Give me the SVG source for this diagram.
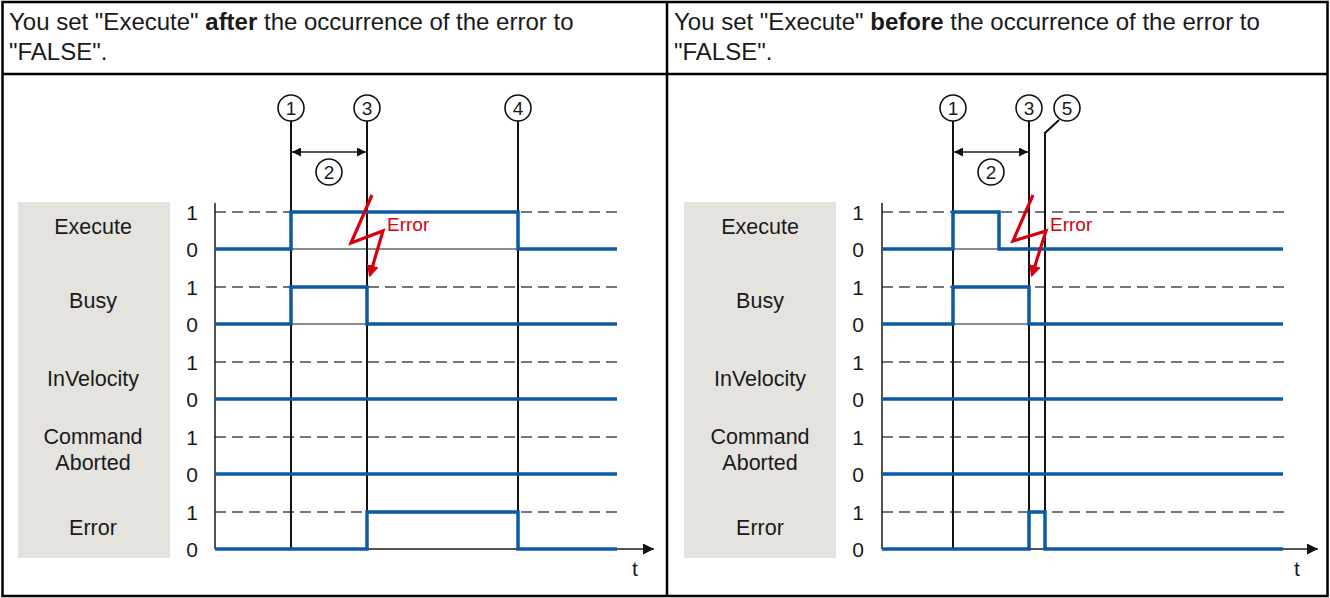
<svg xmlns="http://www.w3.org/2000/svg" width="1330" height="598" viewBox="0 0 1330 598">
<style>
text{font-family:"Liberation Sans",Arial,sans-serif;fill:#1a1a1a}
.hdr{font-size:24px}
.lbl{font-size:21.5px;text-anchor:middle}
.lv{font-size:21px;text-anchor:middle}
.num{font-size:19px;text-anchor:middle}
.box{fill:#e4e3de}
.dash{stroke:#4a4a4a;stroke-width:1.3;stroke-dasharray:11 6;fill:none}
.base{stroke:#1a1a1a;stroke-width:1;fill:none}
.axis{stroke:#1a1a1a;stroke-width:1.5;fill:none}
.sig{stroke:#0c5aa6;stroke-width:3.5;fill:none;stroke-linejoin:miter}
.mk{stroke:#111;stroke-width:2;fill:none}
.circ{fill:#fff;stroke:#111;stroke-width:1.6}
.bolt{stroke:#d7000f;stroke-width:3.2;fill:none;stroke-linejoin:miter}
.err{fill:#d7000f;font-size:19px}
.tt{font-size:21px}
.frame{stroke:#000;stroke-width:2.5;fill:none}
</style>
<defs>
<marker id="ah" viewBox="0 0 10 10" refX="10" refY="5" markerWidth="11" markerHeight="11" markerUnits="userSpaceOnUse" orient="auto"><path d="M0,0 L10,5 L0,10 z" fill="#111"/></marker>
<marker id="ahs" viewBox="0 0 10 10" refX="10" refY="5" markerWidth="9" markerHeight="9" markerUnits="userSpaceOnUse" orient="auto-start-reverse"><path d="M0,0 L10,5 L0,10 z" fill="#111"/></marker>
<marker id="ahr" viewBox="0 0 10 10" refX="8" refY="5" markerWidth="12" markerHeight="12" markerUnits="userSpaceOnUse" orient="auto"><path d="M0,0 L10,5 L0,10 z" fill="#d7000f"/></marker>
</defs>
<rect width="1330" height="598" fill="#fff"/>
<g id="frame">
<rect class="frame" x="2.5" y="2" width="1325" height="594"/>
<line class="frame" x1="667" y1="2" x2="667" y2="596"/>
<line class="frame" x1="2.5" y1="74" x2="1327.5" y2="74"/>
</g>
<g id="header-left">
<text class="hdr" x="9" y="30">You set "Execute" <tspan font-weight="bold">after</tspan> the occurrence of the error to</text>
<text class="hdr" x="9" y="60">"FALSE".</text>
</g>
<g id="header-right">
<text class="hdr" x="674" y="30">You set "Execute" <tspan font-weight="bold">before</tspan> the occurrence of the error to</text>
<text class="hdr" x="674" y="60">"FALSE".</text>
</g>

<!-- LEFT PANEL -->
<g id="left-labels">
<rect class="box" x="18" y="202" width="152" height="356"/>
<text class="lbl" x="93" y="234">Execute</text>
<text class="lbl" x="93" y="308">Busy</text>
<text class="lbl" x="93" y="386">InVelocity</text>
<text class="lbl" x="93" y="444">Command</text>
<text class="lbl" x="93" y="470">Aborted</text>
<text class="lbl" x="93" y="535">Error</text>
</g>
<g id="left-levels">
<text class="lv" x="192" y="220">1</text><text class="lv" x="192" y="257">0</text>
<text class="lv" x="192" y="295">1</text><text class="lv" x="192" y="332">0</text>
<text class="lv" x="192" y="370">1</text><text class="lv" x="192" y="407">0</text>
<text class="lv" x="192" y="445">1</text><text class="lv" x="192" y="482">0</text>
<text class="lv" x="192" y="520">1</text><text class="lv" x="192" y="557">0</text>
</g>
<g id="left-grid">
<path class="dash" d="M215,212H622M215,287H622M215,362H622M215,437H622M215,512H622"/>
<path class="base" d="M215,249H617M215,324H617M215,399H617M215,474H617"/>
<line class="axis" x1="215" y1="203" x2="215" y2="549"/>
<line class="axis" x1="215" y1="549" x2="654" y2="549" marker-end="url(#ah)"/>
<text class="tt" x="632" y="576">t</text>
</g>
<g id="left-markers">
<path class="mk" d="M291,121V549M367,121V549M518,121V549"/>
<line class="axis" x1="292" y1="152" x2="366" y2="152" marker-start="url(#ahs)" marker-end="url(#ahs)"/>
</g>
<g id="left-circles">
<circle class="circ" cx="291" cy="108" r="13"/><text class="num" x="291" y="115">1</text>
<circle class="circ" cx="367" cy="108" r="13"/><text class="num" x="367" y="115">3</text>
<circle class="circ" cx="518" cy="108" r="13"/><text class="num" x="518" y="115">4</text>
<circle class="circ" cx="329" cy="172" r="13"/><text class="num" x="329" y="179">2</text>
</g>
<g id="left-signals">
<path class="sig" d="M215,249H291V212H518V249H617"/>
<path class="sig" d="M215,324H291V287H367V324H617"/>
<path class="sig" d="M215,399H617"/>
<path class="sig" d="M215,474H617"/>
<path class="sig" d="M215,549H367V512H518V549H617"/>
</g>
<g id="left-error">
<path class="bolt" d="M372,195L351,243L383,231L370,275" marker-end="url(#ahr)"/>
<text class="err" x="387" y="231">Error</text>
</g>

<!-- RIGHT PANEL -->
<g id="right-labels">
<rect class="box" x="684" y="202" width="152" height="356"/>
<text class="lbl" x="760" y="234">Execute</text>
<text class="lbl" x="760" y="308">Busy</text>
<text class="lbl" x="760" y="386">InVelocity</text>
<text class="lbl" x="760" y="444">Command</text>
<text class="lbl" x="760" y="470">Aborted</text>
<text class="lbl" x="760" y="535">Error</text>
</g>
<g id="right-levels">
<text class="lv" x="858" y="220">1</text><text class="lv" x="858" y="257">0</text>
<text class="lv" x="858" y="295">1</text><text class="lv" x="858" y="332">0</text>
<text class="lv" x="858" y="370">1</text><text class="lv" x="858" y="407">0</text>
<text class="lv" x="858" y="445">1</text><text class="lv" x="858" y="482">0</text>
<text class="lv" x="858" y="520">1</text><text class="lv" x="858" y="557">0</text>
</g>
<g id="right-grid">
<path class="dash" d="M882,212H1288M882,287H1288M882,362H1288M882,437H1288M882,512H1288"/>
<path class="base" d="M882,249H1283M882,324H1283M882,399H1283M882,474H1283"/>
<line class="axis" x1="882" y1="203" x2="882" y2="549"/>
<line class="axis" x1="882" y1="549" x2="1318" y2="549" marker-end="url(#ah)"/>
<text class="tt" x="1294" y="576">t</text>
</g>
<g id="right-markers">
<path class="mk" d="M953,121V549M1029,121V549M1059,120L1045,133V549"/>
<line class="axis" x1="954" y1="152" x2="1028" y2="152" marker-start="url(#ahs)" marker-end="url(#ahs)"/>
</g>
<g id="right-circles">
<circle class="circ" cx="953" cy="108" r="13"/><text class="num" x="953" y="115">1</text>
<circle class="circ" cx="1029" cy="108" r="13"/><text class="num" x="1029" y="115">3</text>
<circle class="circ" cx="1067" cy="108" r="13"/><text class="num" x="1067" y="115">5</text>
<circle class="circ" cx="991" cy="172" r="13"/><text class="num" x="991" y="179">2</text>
</g>
<g id="right-signals">
<path class="sig" d="M882,249H953V212H999V249H1283"/>
<path class="sig" d="M882,324H953V287H1029V324H1283"/>
<path class="sig" d="M882,399H1283"/>
<path class="sig" d="M882,474H1283"/>
<path class="sig" d="M882,549H1029V512H1045V549H1283"/>
</g>
<g id="right-error">
<path class="bolt" d="M1033,195L1013,241L1046,231L1032,275" marker-end="url(#ahr)"/>
<text class="err" x="1050" y="231">Error</text>
</g>
</svg>
